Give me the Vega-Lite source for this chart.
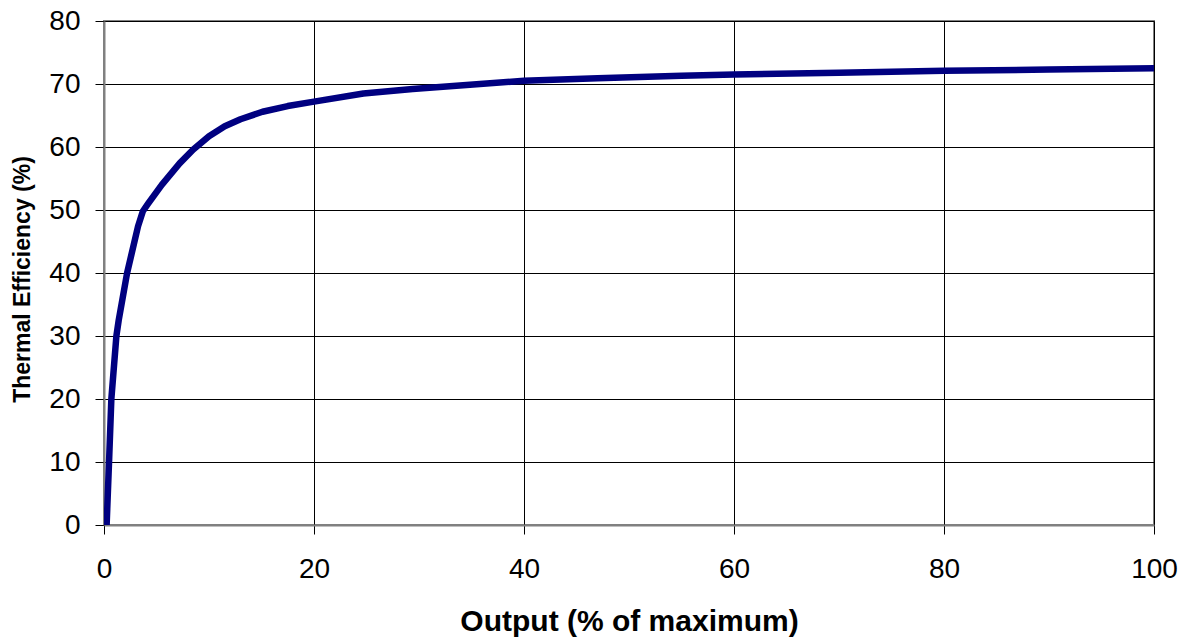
{
  "$schema": "https://vega.github.io/schema/vega-lite/v6.json",
  "width": 1050,
  "height": 504,
  "autosize": "none",
  "padding": {"left": 104, "top": 21, "right": 29, "bottom": 116},
  "background": "white",
  "config": {
    "view": {"stroke": "#808080", "strokeWidth": 2},
    "font": "Liberation Sans"
  },
  "data": {
    "values": [
      {"output": 0.25, "efficiency": 0},
      {"output": 0.48, "efficiency": 10},
      {"output": 0.7, "efficiency": 20},
      {"output": 1.18, "efficiency": 30},
      {"output": 1.4, "efficiency": 32.5},
      {"output": 2.2, "efficiency": 40},
      {"output": 3.24, "efficiency": 47.4},
      {"output": 3.7, "efficiency": 49.8},
      {"output": 4.2, "efficiency": 51},
      {"output": 5.5, "efficiency": 54},
      {"output": 7.2, "efficiency": 57.4},
      {"output": 8.5, "efficiency": 59.6},
      {"output": 10, "efficiency": 61.7},
      {"output": 11.5, "efficiency": 63.3},
      {"output": 13, "efficiency": 64.4},
      {"output": 15.1, "efficiency": 65.6},
      {"output": 17.5, "efficiency": 66.5},
      {"output": 20, "efficiency": 67.2},
      {"output": 24.7, "efficiency": 68.5},
      {"output": 29.4, "efficiency": 69.2},
      {"output": 35.8, "efficiency": 70.0},
      {"output": 40, "efficiency": 70.5},
      {"output": 47, "efficiency": 70.9},
      {"output": 55, "efficiency": 71.3},
      {"output": 60, "efficiency": 71.5},
      {"output": 70, "efficiency": 71.8},
      {"output": 80, "efficiency": 72.1},
      {"output": 90, "efficiency": 72.3},
      {"output": 100, "efficiency": 72.5}
    ]
  },
  "mark": {"type": "line", "color": "#000080", "strokeWidth": 6.5, "strokeJoin": "round", "strokeCap": "round", "clip": true},
  "encoding": {
    "x": {
      "field": "output",
      "type": "quantitative",
      "scale": {"domain": [0, 100], "nice": false, "zero": true},
      "axis": {
        "title": "Output (% of maximum)",
        "values": [0, 20, 40, 60, 80, 100],
        "grid": true,
        "gridColor": "black",
        "gridOpacity": 1,
        "gridWidth": 1,
        "domain": true,
        "domainColor": "#808080",
        "domainWidth": 2,
        "ticks": true,
        "tickColor": "black",
        "tickSize": 9,
        "tickWidth": 1,
        "labelFont": "Liberation Sans",
        "labelFontSize": 28,
        "labelColor": "black",
        "labelPadding": 21,
        "labelFlush": false,
        "labelOverlap": false,
        "titleFont": "Liberation Sans",
        "titleFontSize": 30,
        "titleFontWeight": "bold",
        "titleColor": "black",
        "titleBaseline": "alphabetic",
        "titleY": 105
      }
    },
    "y": {
      "field": "efficiency",
      "type": "quantitative",
      "scale": {"domain": [0, 80], "nice": false},
      "axis": {
        "title": "Thermal Efficiency (%)",
        "values": [0, 10, 20, 30, 40, 50, 60, 70, 80],
        "grid": true,
        "gridColor": "black",
        "gridOpacity": 1,
        "gridWidth": 1,
        "domain": true,
        "domainColor": "#808080",
        "domainWidth": 2,
        "ticks": true,
        "tickColor": "black",
        "tickSize": 9,
        "tickWidth": 1,
        "labelFont": "Liberation Sans",
        "labelFontSize": 28,
        "labelColor": "black",
        "labelPadding": 15,
        "labelFlush": false,
        "labelOverlap": false,
        "titleFont": "Liberation Sans",
        "titleFontSize": 23,
        "titleFontWeight": "bold",
        "titleColor": "black",
        "titleBaseline": "middle",
        "titleX": -82,
        "titleY": 258
      }
    }
  }
}
